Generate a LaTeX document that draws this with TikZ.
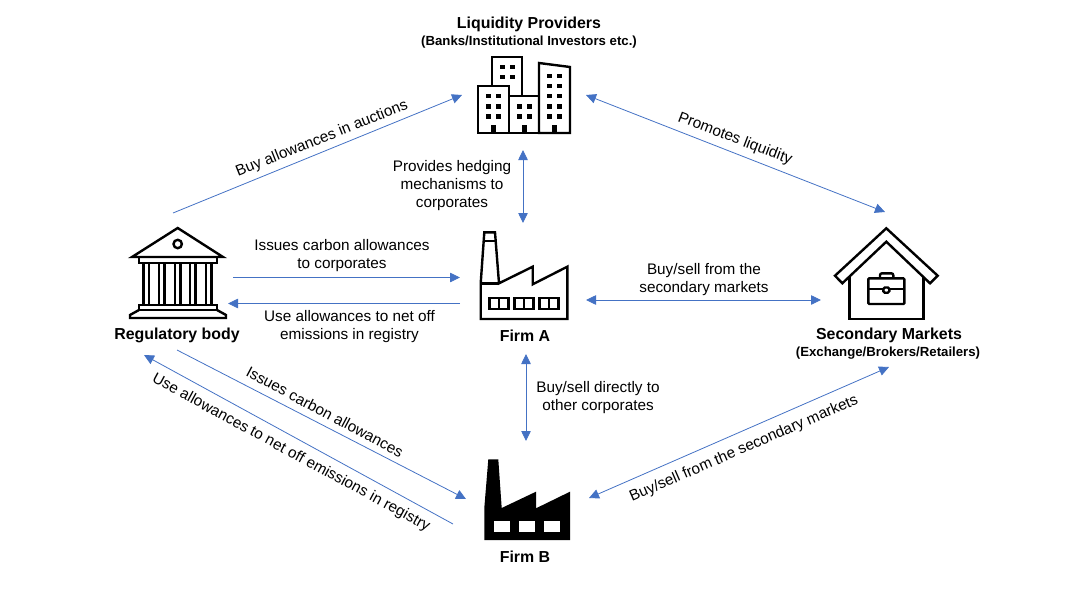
\documentclass[tikz,border=0pt]{standalone}
\usepackage{fontspec}
\setmainfont{Liberation Sans}
\usetikzlibrary{arrows.meta}
\definecolor{flowblue}{HTML}{4472C4}
\tikzset{
    flow/.style={flowblue, line width=0.8pt, -{Triangle[length=10pt,width=9.5pt]}},
    flowboth/.style={flowblue, line width=0.8pt, {Triangle[length=10pt,width=9.5pt]}-{Triangle[length=10pt,width=9.5pt]}},
    icon/.style={line width=2.4pt, line join=miter, black},
    txt/.style={font=\fontsize{15.3}{18}\selectfont, align=center, inner sep=0pt},
    title/.style={font=\fontsize{15.9}{18}\selectfont\bfseries, align=center, inner sep=0pt},
    subtitle/.style={font=\fontsize{13.2}{14}\selectfont\bfseries, align=center, inner sep=0pt}
}
\begin{document}
\begin{tikzpicture}[x=1pt,y=-1pt]
    \useasboundingbox (0,0) rectangle (1069,594);

    % Titles of the actors
    \node[title] (liqtitle) at (529,24) {Liquidity Providers};
    \node[subtitle] (liqsub) at (529,42) {(Banks/Institutional Investors etc.)};
    \node[title] (regtitle) at (177,335) {Regulatory body};
    \node[title] (firmatitle) at (525,336) {Firm A};
    \node[title] (firmbtitle) at (525,557) {Firm B};
    \node[title] (sectitle) at (889,335) {Secondary Markets};
    \node[subtitle] (secsub) at (888,353) {(Exchange/Brokers/Retailers)};

    % Buildings
    \draw[icon] (478,133) rectangle (509,86);
    \draw[icon] (492,86) -- (492,57) -- (522,57) -- (522,96);
    \draw[icon] (509,133) rectangle (539,96);
    \draw[icon] (539,133) -- (539,63) -- (570,67) -- (570,133) -- cycle;
    \foreach \y in {65,75} \foreach \x in {500,510}
        \fill (\x,\y) rectangle +(5,4.5);
    \foreach \y in {94,104,114} \foreach \x in {486,496,547,557}
        \fill (\x,\y) rectangle +(5,4.5);
    \foreach \y in {104,114} \foreach \x in {517,527}
        \fill (\x,\y) rectangle +(5,4.5);
    \foreach \y in {74,84} \foreach \x in {547,557}
        \fill (\x,\y) rectangle +(5,4.5);
    \foreach \x in {491,522,552}
        \fill (\x,125) rectangle +(5,8);

    % Bank
    \draw[icon] (132,257) -- (177.7,228) -- (223,257) -- cycle;
    \draw[icon] (177.7,244) circle (4.2);
    \draw[icon] (139,257) rectangle (217,263);
    \foreach \x in {143.5,159,175,190,206}
        \draw[icon] (\x,263) rectangle +(5.5,42);
    \draw[icon] (139,305) rectangle (217,310);
    \draw[icon] (139,310) -- (130,315) -- (130,318) -- (226,318) -- (226,315) -- (217,310);

    % Firm A
    \draw[icon] (480.7,319) -- (480.7,283.3) -- (484.3,232.3) -- (495,232.3) -- (499,283.3) -- (532.7,266.7) -- (532.7,284.3) -- (567.3,266.7) -- (567.3,319) -- cycle;
    \draw[icon] (480.7,283.3) -- (499,283.3);
    \draw[icon] (483.5,241) -- (495.7,241);
    \foreach \x in {489.3,514.3,539.3} {
        \draw[icon] (\x,297.7) rectangle +(19,11.3);
        \draw[icon] (\x+9.5,297.7) -- +(0,11.3);
    }

    % Firm B
    \fill (484.3,540) -- (484.3,508) -- (488.3,459.3) -- (498.3,459.3) -- (501.7,508) -- (536,491.7) -- (536,508.3) -- (570,491.7) -- (570,540) -- cycle;
    \foreach \x in {494.3,519.3,544.3}
        \fill[white] (\x,521) rectangle +(15.7,11.3);

    % House with briefcase
    \draw[icon] (835,275.7) -- (886.3,228.3) -- (937.7,275.7) -- (930,283.3) -- (886.3,241.7) -- (842.3,283.3) -- cycle;
    \draw[icon] (849.3,276.7) -- (849.3,318.7) -- (923.3,318.7) -- (923.3,276.7);
    \draw[icon, rounded corners=1pt] (868.3,278.3) rectangle (904.3,304);
    \draw[icon, rounded corners=2pt] (880,278.3) -- (880,273.3) -- (893.3,273.3) -- (893.3,278.3);
    \draw[icon] (868.3,289) -- (883.3,289) (889.3,289) -- (904.3,289);
    \draw[icon, rounded corners=1.5pt] (883.3,287.5) rectangle (889.3,292.7);

    % Free ends of the connectors
    \coordinate (buyfrom) at (173,213);
    \coordinate (buyto) at (462,95);
    \coordinate (promfrom) at (586,95);
    \coordinate (promto) at (885,212);
    \coordinate (hedgefrom) at (523,150);
    \coordinate (hedgeto) at (523,223);
    \coordinate (issuefrom) at (233,277.5);
    \coordinate (issueto) at (460,277.5);
    \coordinate (usefrom) at (460,303.5);
    \coordinate (useto) at (228,303.5);
    \coordinate (secafrom) at (586,300);
    \coordinate (secato) at (821,300);
    \coordinate (directfrom) at (526,354);
    \coordinate (directto) at (526,441);
    \coordinate (issuebfrom) at (177,350);
    \coordinate (issuebto) at (466,499);
    \coordinate (usebfrom) at (453,524);
    \coordinate (usebto) at (144,355);
    \coordinate (secbfrom) at (589,498);
    \coordinate (secbto) at (889,367);

    % Connectors
    \draw[flow] (buyfrom) -- (buyto);
    \draw[flowboth] (promfrom) -- (promto);
    \draw[flowboth] (hedgefrom) -- (hedgeto);
    \draw[flow] (issuefrom) -- (issueto);
    \draw[flow] (usefrom) -- (useto);
    \draw[flowboth] (secafrom) -- (secato);
    \draw[flowboth] (directfrom) -- (directto);
    \draw[flow] (issuebfrom) -- (issuebto);
    \draw[flow] (usebfrom) -- (usebto);
    \draw[flowboth] (secbfrom) -- (secbto);

    % Connector labels
    \node[txt, rotate=21.8] (buylabel) at (322,139) {Buy allowances in auctions};
    \node[txt, rotate=-21] (promlabel) at (735,139) {Promotes liquidity};
    \node[txt] (hedgelabel) at (452,186) {Provides hedging\\mechanisms to\\corporates};
    \node[txt] (issuelabel) at (342,256) {Issues carbon allowances\\to corporates};
    \node[txt] (uselabel) at (349.5,327) {Use allowances to net off\\emissions in registry};
    \node[txt] (secalabel) at (704,280) {Buy/sell from the\\secondary markets};
    \node[txt] (directlabel) at (598,398) {Buy/sell directly to\\other corporates};
    \node[txt, rotate=-28] (issueblabel) at (325,412) {Issues carbon allowances};
    \node[txt, rotate=-28.5] (useblabel) at (291,453) {Use allowances to net off emissions in registry};
    \node[txt, rotate=23.5] (secblabel) at (744,449) {Buy/sell from the secondary markets};
\end{tikzpicture}
\end{document}
